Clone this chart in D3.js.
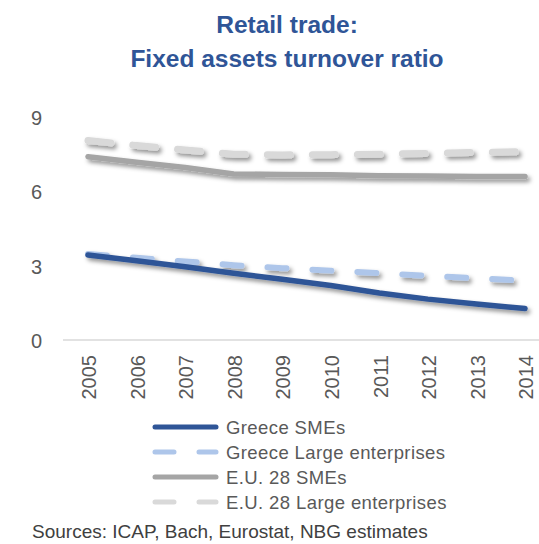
<!DOCTYPE html>
<html>
<head>
<meta charset="utf-8">
<script src="https://cdn.jsdelivr.net/npm/d3@7"></script>
<style>
  html, body { margin: 0; padding: 0; background: #ffffff; }
  svg { display: block; font-family: "Liberation Sans", Arial, sans-serif; }
</style>
</head>
<body>
<script>
// ---- data ----
const years = ["2005","2006","2007","2008","2009","2010","2011","2012","2013","2014"];
const greeceSMEs   = [3.43, 3.20, 2.96, 2.69, 2.45, 2.20, 1.90, 1.65, 1.45, 1.27];
const greeceLarge  = [3.47, 3.32, 3.17, 3.02, 2.90, 2.80, 2.70, 2.59, 2.49, 2.39];
const euSMEs       = [7.40, 7.17, 6.96, 6.70, 6.68, 6.67, 6.63, 6.62, 6.60, 6.60];
const euLarge      = [8.05, 7.85, 7.67, 7.50, 7.47, 7.48, 7.50, 7.53, 7.57, 7.60];
const yTicks = [0, 3, 6, 9];
const titleLines = ["Retail trade:", "Fixed assets turnover ratio"];
const sourceText = "Sources: ICAP, Bach, Eurostat, NBG estimates";

const seriesNames = ["Greece SMEs", "Greece Large enterprises", "E.U. 28 SMEs", "E.U. 28 Large enterprises"];
const seriesValues = [greeceSMEs, greeceLarge, euSMEs, euLarge];
const seriesStyle = [
  { color: "#2F5597", width: 5.5, dash: null },
  { color: "#AEC6EA", width: 6,   dash: "19 26" },
  { color: "#A5A5A5", width: 5.5, dash: null },
  { color: "#D9D9D9", width: 7,   dash: "23 22" }
];

const W = 539, H = 544;
const svg = d3.select("body").append("svg").attr("width", W).attr("height", H);

const defs = svg.append("defs");
const f = defs.append("filter").attr("id", "shadow")
  .attr("x", "-10%").attr("y", "-50%").attr("width", "120%").attr("height", "200%");
f.append("feDropShadow").attr("dx", 2.5).attr("dy", 3).attr("stdDeviation", 2.3)
  .attr("flood-color", "#000").attr("flood-opacity", 0.42);

// ---- title ----
svg.append("g").selectAll("text").data(titleLines).join("text")
  .attr("x", 287).attr("y", (d, i) => 33 + i * 34)
  .attr("text-anchor", "middle")
  .attr("font-weight", "bold").attr("font-size", 24.5)
  .attr("fill", "#2F5597")
  .text(d => d);

// ---- scales ----
const x = d3.scalePoint().domain(years).range([88, 525]);
const y = d3.scaleLinear().domain([0, 9]).range([340, 117]);

// x axis line
svg.append("line").attr("x1", 63).attr("x2", 539).attr("y1", y(0)).attr("y2", y(0))
  .attr("stroke", "#D9D9D9").attr("stroke-width", 1.3);

// y tick labels
const yAxis = d3.axisLeft(y).tickValues(yTicks).tickSize(0).tickPadding(0);
const gy = svg.append("g").attr("transform", "translate(42,1)").call(yAxis);
gy.select(".domain").remove();
gy.selectAll("text").attr("font-size", 20).attr("fill", "#595959")
  .attr("font-family", "Liberation Sans, Arial, sans-serif");

// x tick labels
const xAxis = d3.axisBottom(x).tickSize(0).tickPadding(0);
const gx = svg.append("g").attr("transform", "translate(0,355)").call(xAxis);
gx.select(".domain").remove();
gx.selectAll("text")
  .attr("font-size", 20).attr("fill", "#595959")
  .attr("font-family", "Liberation Sans, Arial, sans-serif")
  .attr("text-anchor", "end")
  .attr("transform", "rotate(-90)")
  .attr("x", 0).attr("y", 0).attr("dy", "0.36em");
gx.selectAll(".tick").attr("transform", d => `translate(${x(d) + 1},0)`);

// ---- lines ----
const line = d3.line().x((d, i) => x(years[i])).y(d => y(d));
const drawOrder = [3, 2, 1, 0];
svg.append("g").attr("filter", "url(#shadow)")
  .selectAll("path").data(drawOrder).join("path")
  .attr("d", k => line(seriesValues[k]))
  .attr("fill", "none")
  .attr("stroke", k => seriesStyle[k].color)
  .attr("stroke-width", k => seriesStyle[k].width)
  .attr("stroke-linecap", "round")
  .attr("stroke-linejoin", "round")
  .attr("stroke-dasharray", k => seriesStyle[k].dash);

// ---- legend ----
const lg = svg.append("g");
const legendY = i => 427 + i * 25;
const items = lg.selectAll("g").data(seriesNames).join("g")
  .attr("transform", (d, i) => `translate(0,${legendY(i)})`);
items.append("line")
  .attr("x1", 155).attr("x2", 216)
  .attr("y1", 0).attr("y2", 0)
  .attr("stroke", (d, i) => seriesStyle[i].color)
  .attr("stroke-width", 5)
  .attr("stroke-linecap", "round")
  .attr("stroke-dasharray", (d, i) => seriesStyle[i].dash ? "19 25" : null);
items.append("text")
  .attr("x", 226).attr("y", 0).attr("dy", "0.36em")
  .attr("font-size", 18.5).attr("fill", "#595959")
  .attr("letter-spacing", 0.4)
  .text(d => d);

// ---- source ----
svg.append("text").attr("x", 32).attr("y", 538)
  .attr("font-size", 19).attr("fill", "#404040")
  .text(sourceText);
</script>
</body>
</html>
